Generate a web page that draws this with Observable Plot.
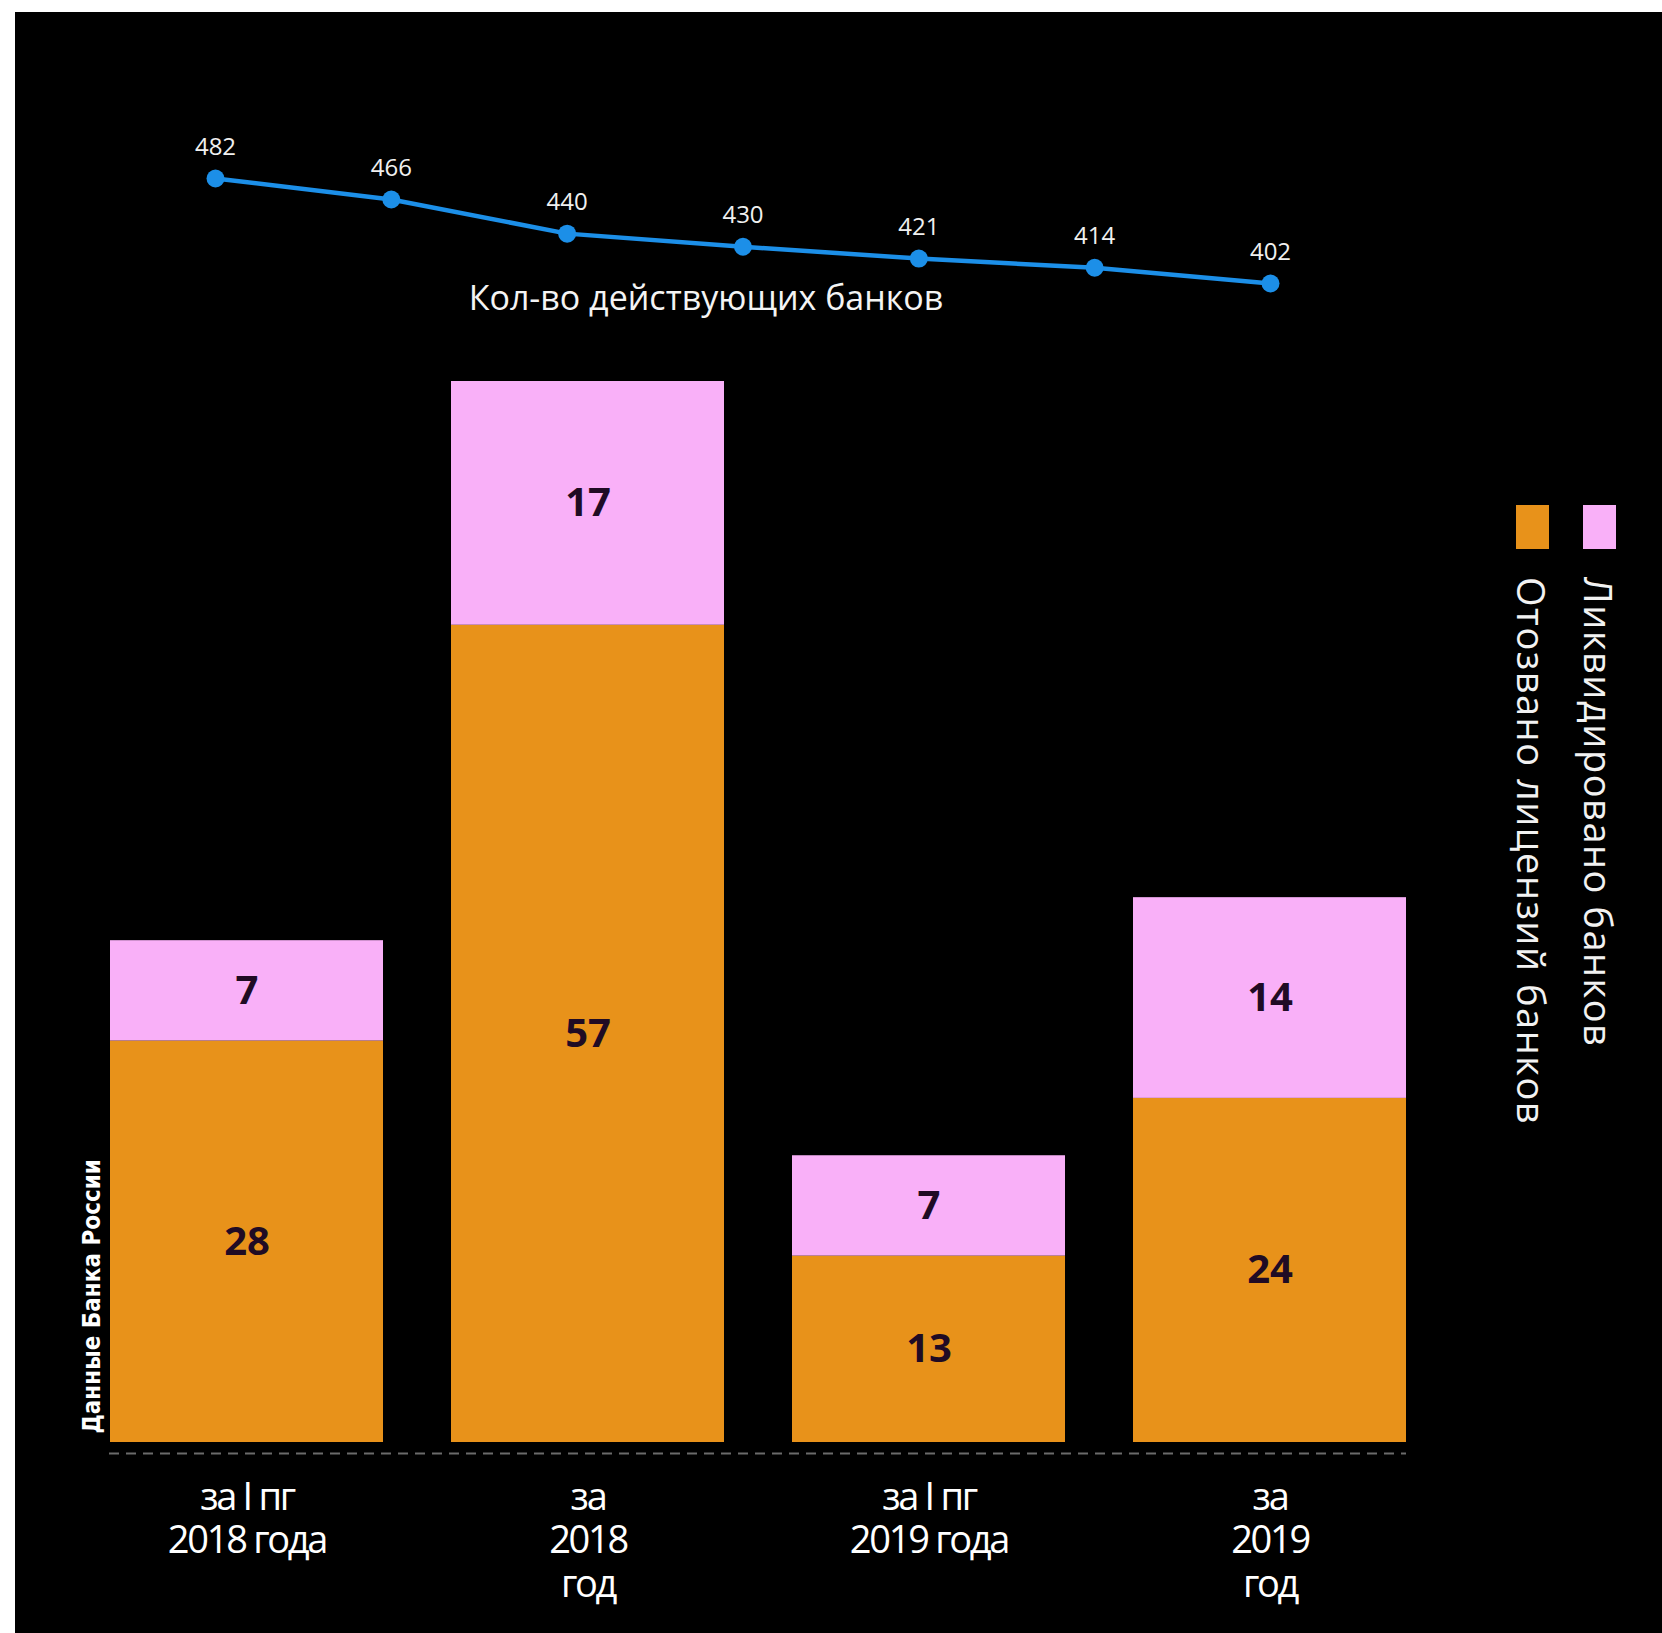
<!DOCTYPE html>
<html><head><meta charset="utf-8">
<script src="https://cdn.jsdelivr.net/npm/d3@7"></script>
<script src="https://cdn.jsdelivr.net/npm/@observablehq/plot@0.6"></script>
<style>
body{margin:0;background:#fff;width:1662px;height:1633px;position:relative;overflow:hidden;font-family:"Open Sans",sans-serif}
#bg{position:absolute;left:15px;top:12px;width:1647px;height:1621px;background:#000}
#line{position:absolute;left:0;top:0}
#bars{position:absolute;left:0;top:330px}
.leg{position:absolute;top:505px;display:flex;flex-direction:column;align-items:center;color:#f2f2f2;font-family:"Open Sans",sans-serif;font-size:38px;letter-spacing:1.5px}
.leg .sw{width:33px;height:44px;margin-bottom:28px}
.leg .tx{writing-mode:vertical-rl;line-height:1}
#src{position:absolute;left:80px;bottom:200px;writing-mode:vertical-rl;transform:rotate(180deg);color:#fff;font-family:"DejaVu Sans Condensed","Liberation Sans Narrow",sans-serif;font-weight:bold;font-size:24px;line-height:1}
.xax text{letter-spacing:-2.3px}
</style></head>
<body>
<div id="bg"></div>
<div id="line"></div>
<div id="bars"></div>
<div id="legend"></div>
<div id="src">Данные Банка России</div>
<script>
// ---- data ----
const periods = ["за I пг\n2018 года", "за\n2018\nгод", "за I пг\n2019 года", "за\n2019\nгод"];
const revoked = [28, 57, 13, 24];      // Отозвано лицензий банков
const liquidated = [7, 17, 7, 14];     // Ликвидировано банков
const seriesNames = ["Отозвано лицензий банков", "Ликвидировано банков"];
const seriesColors = ["#E8921A", "#F9B0F8"];
const bankPoints = [1, 2, 3, 4, 5, 6, 7];
const bankCounts = [482, 466, 440, 430, 421, 414, 402];
const lineTitle = "Кол-во действующих банков";

// ---- line chart ----
const lineData = bankPoints.map((p, i) => ({p, v: bankCounts[i]}));
const blue = "#1C8FE8";
const linePlot = Plot.plot({
  width: 1662, height: 330,
  marginLeft: 215, marginRight: 392, marginTop: 178, marginBottom: 47,
  style: {background: "transparent", overflow: "visible"},
  x: {type: "linear", domain: [1, 7], axis: null},
  y: {domain: [402, 482], axis: null},
  marks: [
    Plot.line(lineData, {x: "p", y: "v", stroke: blue, strokeWidth: 4.5}),
    Plot.dot(lineData, {x: "p", y: "v", r: 9, fill: blue}),
    Plot.text(lineData, {x: "p", y: "v", text: d => String(d.v), dy: -31, fill: "#f0f0f0", fontSize: 24, fontFamily: "Open Sans, sans-serif"}),
    Plot.text([lineTitle], {frameAnchor: "bottom", text: d => d, dx: -37, dy: 16, lineAnchor: "middle", fill: "#f4f4f4", fontSize: 34, fontFamily: "Open Sans, sans-serif"})
  ]
});
document.getElementById("line").appendChild(linePlot);

// ---- stacked bars ----
const rows = [];
periods.forEach((p, i) => {
  rows.push({period: p, series: seriesNames[0], value: revoked[i]});
  rows.push({period: p, series: seriesNames[1], value: liquidated[i]});
});
const barPlot = Plot.plot({
  width: 1662, height: 1303,
  marginLeft: 109, marginRight: 256, marginTop: 51, marginBottom: 191,
  style: {background: "transparent", overflow: "visible"},
  x: {domain: periods, paddingInner: 0.2, paddingOuter: 0},
  y: {domain: [0, 74], axis: null},
  color: {domain: seriesNames, range: seriesColors},
  marks: [
    Plot.ruleY([0], {stroke: "#6a6a6a", strokeWidth: 2, strokeDasharray: "10,7", dy: 11}),
    Plot.barY(rows, {x: "period", y: "value", fill: "series"}),
    Plot.text(rows, Plot.stackY({x: "period", y: "value", text: d => String(d.value), fill: "#200b24", fontSize: 40, fontWeight: "bold", fontFamily: "Open Sans, sans-serif"})),
    Plot.axisX({className: "xax", tickSize: 0, tickPadding: 36, fontSize: 38, fill: "#fff", lineHeight: 1.15, fontFamily: "Open Sans, sans-serif", label: null})
  ]
});
document.getElementById("bars").appendChild(barPlot);

// ---- legend (vertical) ----
const leg = document.getElementById("legend");
const legX = [1532, 1599];
seriesNames.forEach((name, i) => {
  const d = document.createElement("div");
  d.className = "leg";
  d.style.left = (legX[i] - 30) + "px";
  d.style.width = "60px";
  d.innerHTML = `<div class="sw" style="background:${seriesColors[i]}"></div><div class="tx">${name}</div>`;
  leg.appendChild(d);
});
</script>
</body></html>
